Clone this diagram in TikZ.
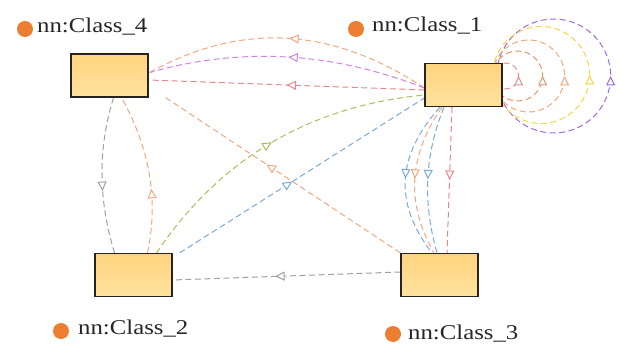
\documentclass[tikz,border=0pt]{standalone}
\usepackage{fontspec}
\usepackage{graphicx}
\setmainfont{Liberation Serif}
\usetikzlibrary{arrows.meta,decorations.markings,calc,backgrounds}
\definecolor{boxtop}{RGB}{255,212,126}
\definecolor{boxbot}{RGB}{255,226,158}
\definecolor{boxline}{RGB}{40,35,30}
\definecolor{dotc}{RGB}{237,125,49}
\definecolor{cOrange}{RGB}{240,168,128}
\definecolor{cPurple}{RGB}{205,130,230}
\definecolor{cPink}{RGB}{230,135,140}
\definecolor{cGrey}{RGB}{160,160,160}
\definecolor{cGreen}{RGB}{165,192,95}
\definecolor{cBlue}{RGB}{120,170,218}
\definecolor{cYellow}{RGB}{248,212,70}
\definecolor{cViolet}{RGB}{160,105,225}
\definecolor{cSalmon}{RGB}{222,145,140}
\definecolor{cOrTwo}{RGB}{228,150,110}
\begin{document}
\begin{tikzpicture}[x=1pt,y=-1pt,
 classbox/.style={draw=boxline, line width=1.3pt, top color=boxtop, bottom color=boxbot, minimum width=77pt, minimum height=43pt, inner sep=0pt},
 dotnode/.style={circle, fill=dotc, minimum size=16pt, inner sep=0pt},
 lab/.style={anchor=base west, inner sep=0pt, font=\fontsize{21}{21}\selectfont, text=black!85},
 edge/.style={line width=1pt, dash pattern=on 6pt off 3.5pt},
 mid/.style={postaction={decorate,decoration={markings,mark=at position #1 with {\arrow{Triangle[fill=white,length=9.5pt,width=9pt,line width=1pt]}}}}},
 mid/.default=0.5]
\useasboundingbox (0,0) rectangle (622,347);
% class boxes
\node[classbox] (c4) at (109.5,75.5) {};
\node[classbox] (c1) at (463.5,85) {};
\node[classbox] (c2) at (133.5,275) {};
\node[classbox] (c3) at (439.5,275) {};
% labels
\node[dotnode] (d4) at (25,29) {};
\node[lab] (t4) at (37,33) {\scalebox{1.18}[1]{nn:Class\_4}};
\node[dotnode] (d1) at (356,29) {};
\node[lab] (t1) at (372,32) {\scalebox{1.18}[1]{nn:Class\_1}};
\node[dotnode] (d2) at (61,331) {};
\node[lab] (t2) at (78,335) {\scalebox{1.18}[1]{nn:Class\_2}};
\node[dotnode] (d3) at (393,334) {};
\node[lab] (t3) at (408,340) {\scalebox{1.18}[1]{nn:Class\_3}};
\begin{scope}[on background layer]
% Class_1 -> Class_4
\draw[edge,cOrange,mid] ($(c1.west)+(0,3)$) .. controls +(-92,-61) and +(92,-51) .. ($(c4.east)+(1,-3)$);
\draw[edge,cPurple,mid] ($(c1.west)+(0,3)$) .. controls +(-92,-36) and +(92,-26) .. ($(c4.east)+(1,-3)$);
\draw[edge,cPink,mid] ($(c1.west)+(0,5)$) -- ($(c4.east)+(0,4.5)$);
% Class_4 <-> Class_2
\draw[edge,cGrey,mid=0.6] ($(c4.south)+(4,0)$) .. controls +(-16,52) and +(-16,-52) .. ($(c2.north)+(-19,0)$);
\draw[edge,cOrange,mid=0.4] ($(c2.north)+(14,0)$) .. controls +(11,-52) and +(29,52) .. ($(c4.south)+(12,0)$);
% Class_3 -> Class_4
\draw[edge,cOrange,mid=0.57] (c3.north west) -- ($(c4.south east)+(17,0)$);
% Class_2 -> Class_1
\draw[edge,cGreen,mid] ($(c2.north)+(23,0)$) .. controls +(64,-95) and +(-114,11) .. ($(c1.west)+(0,10)$);
\draw[edge,cBlue,mid=0.46] ($(c2.north east)+(7,0)$) -- ($(c1.west)+(0,13)$);
% Class_3 -> Class_2
\draw[edge,cGrey,mid=0.55] ($(c3.west)+(0,-3)$) -- ($(c2.east)+(0,5)$);
% Class_1 -> Class_3
\draw[edge,cBlue,mid] ($(c1.south)+(-23.5,0)$) .. controls +(-44,49) and +(-38,-49) .. ($(c3.north)+(-7.5,0)$);
\draw[edge,cOrange,mid] ($(c1.south)+(-21.5,0)$) .. controls +(-34,49) and +(-28,-49) .. ($(c3.north)+(-5.5,0)$);
\draw[edge,cBlue,mid] ($(c1.south)+(-19.5,0)$) .. controls +(-20,49) and +(-14,-49) .. ($(c3.north)+(-2.5,0)$);
\draw[edge,cPink,mid] ($(c1.south)+(-11.5,0)$) -- ($(c3.north)+(7.5,0)$);
% self loops on Class_1
\draw[edge,cViolet,mid] ($(c1.east)+(-6,-9)$) arc[start angle=180,end angle=-180,radius=57];
\draw[edge,cYellow,mid] ($(c1.east)+(-10,-10)$) arc[start angle=180,end angle=-180,radius=48.5];
\draw[edge,cOrange,mid] ($(c1.east)+(-10,-9)$) arc[start angle=180,end angle=-180,radius=36];
\draw[edge,cOrTwo,mid] ($(c1.east)+(-10,-9)$) arc[start angle=180,end angle=-180,radius=25];
\draw[edge,cSalmon,mid] ($(c1.east)+(-10,-9)$) arc[start angle=180,end angle=-180,radius=13];
\end{scope}
\end{tikzpicture}
\end{document}
